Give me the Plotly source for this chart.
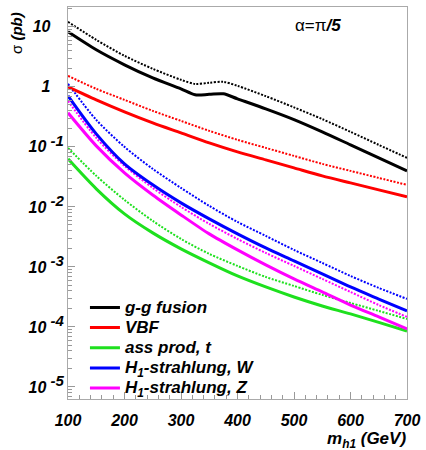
import plotly.graph_objects as go

# Higgs mass grid (GeV)
m_h1 = [100, 150, 200, 250, 300, 350, 400, 450, 500, 550, 600, 650, 700]
m_h1_gg = [100, 150, 200, 250, 300, 325, 350, 375, 400, 450, 500, 550, 600, 650, 700]

# cross sections (pb): solid and dotted variant of each channel
gg_solid = [8.25, 4.14, 2.33, 1.41, 0.926, 0.736, 0.750, 0.765, 0.631, 0.430, 0.285, 0.178, 0.108, 0.0656, 0.0398]
gg_dot = [12.1, 6.07, 3.29, 2.0, 1.31, 1.12, 1.17, 1.21, 1.04, 0.700, 0.455, 0.290, 0.178, 0.108, 0.0656]

vbf_solid = [1.0, 0.607, 0.383, 0.251, 0.171, 0.1166, 0.0825, 0.0607, 0.0447, 0.0329, 0.0251, 0.0192, 0.0147]
vbf_dot = [1.525, 0.926, 0.607, 0.398, 0.271, 0.185, 0.131, 0.0962, 0.0708, 0.0521, 0.0398, 0.0304, 0.0233]

tt_solid = [0.0631, 0.0200, 0.00765, 0.00369, 0.00200, 0.00117, 0.000708, 0.000464, 0.000316, 0.000224, 0.000165, 0.000119, 0.0000858]
tt_dot = [0.0962, 0.0329, 0.01308, 0.00585, 0.00293, 0.00165, 0.00104, 0.000681, 0.000482, 0.000342, 0.000251, 0.000185, 0.000136]

hw_solid = [0.708, 0.1647, 0.0521, 0.0233, 0.01166, 0.00631, 0.00355, 0.00207, 0.00126, 0.000766, 0.000464, 0.000292, 0.000185]
hw_dot = [1.122, 0.282, 0.1, 0.0430, 0.0207, 0.0104, 0.00562, 0.00329, 0.00192, 0.001166, 0.000708, 0.000447, 0.000293]

hz_solid = [0.369, 0.104, 0.0369, 0.0158, 0.00736, 0.00355, 0.00192, 0.00108, 0.000631, 0.000383, 0.000232, 0.000147, 0.0000926]
hz_dot = [0.584, 0.141, 0.0482, 0.0207, 0.01, 0.00521, 0.00292, 0.00171, 0.00104, 0.000631, 0.000383, 0.000232, 0.000147]

labels = ["g-g fusion", "VBF", "ass prod, t", "H<sub>1</sub>-strahlung, W", "H<sub>1</sub>-strahlung, Z"]
colors = ["#000000", "#ff0000", "#1ee01e", "#0000ff", "#ff00ff"]

x_ticks = [100, 200, 300, 400, 500, 600, 700]
y_ticks = [1e-5, 1e-4, 1e-3, 1e-2, 1e-1, 1, 10]
EXP = '<sup><span style="font-size:15px">&nbsp;%s</span></sup>'
y_ticktext = ["10" + EXP % "-5", "10" + EXP % "-4", "10" + EXP % "-3", "10" + EXP % "-2",
              "10" + EXP % "-1", "1&nbsp;&nbsp;&nbsp;", "10&nbsp;&nbsp;&nbsp;"]

FONT = "Liberation Sans"

series = [
    (m_h1_gg, gg_solid, gg_dot),
    (m_h1, vbf_solid, vbf_dot),
    (m_h1, tt_solid, tt_dot),
    (m_h1, hw_solid, hw_dot),
    (m_h1, hz_solid, hz_dot),
]

fig = go.Figure()
# dotted variants first so solid lines sit on top
for (xs, ys_solid, ys_dot), col in zip(series, colors):
    fig.add_trace(go.Scatter(
        x=xs, y=ys_dot, mode="lines", showlegend=False, hoverinfo="skip",
        line=dict(color=col, width=2, dash="2px,1.5px", shape="spline", smoothing=0.8),
    ))
for (xs, ys_solid, ys_dot), col, lab in zip(series, colors, labels):
    fig.add_trace(go.Scatter(
        x=xs, y=ys_solid, mode="lines",
        name='<span style="font-size:17px"><b><i>%s</i></b></span>' % lab,
        line=dict(color=col, width=3, shape="spline", smoothing=0.8),
    ))

# minor ticks on the log axis
minor_y = [k * 10.0 ** e for e in range(-6, 2) for k in range(2, 10)]

fig.update_layout(
    width=426, height=450,
    margin=dict(l=68, r=19, t=7, b=51),
    paper_bgcolor="white", plot_bgcolor="white",
    font=dict(family=FONT, size=16, color="black"),
    showlegend=True,
    legend=dict(
        x=0.05, y=0.272, xanchor="left", yanchor="top",
        bgcolor="rgba(0,0,0,0)", borderwidth=0,
        font=dict(family=FONT, size=13.2, color="black"),
        itemwidth=30,
    ),
    xaxis=dict(
        type="linear", range=[100, 700],
        tickvals=x_ticks, ticktext=["<b><i>%d</i></b>" % v for v in x_ticks],
        ticks="inside", ticklen=7, tickcolor="#999999", tickwidth=1,
        minor=dict(ticks="inside", ticklen=4, dtick=20, tickcolor="#999999"),
        showline=True, linecolor="#aaaaaa", linewidth=1, mirror=True,
        showgrid=False, zeroline=False,
        tickfont=dict(family=FONT, size=16, color="black"),
        ticklabelstandoff=7,
    ),
    yaxis=dict(
        type="log", range=[-5.2, 1.33],
        tickvals=y_ticks, ticktext=["<b><i>%s</i></b>" % t for t in y_ticktext],
        ticks="inside", ticklen=7, tickcolor="#999999", tickwidth=1,
        minor=dict(ticks="inside", ticklen=4, tickvals=minor_y, tickcolor="#999999"),
        showline=True, linecolor="#aaaaaa", linewidth=1, mirror=True,
        showgrid=False, zeroline=False,
        tickfont=dict(family=FONT, size=16, color="black"),
    ),
)

fig.add_annotation(
    text="α=π<b><i>/5</i></b>", xref="paper", yref="paper",
    x=0.737, y=0.954, xanchor="center", yanchor="middle", showarrow=False,
    font=dict(family=FONT, size=17, color="black"),
)
fig.add_annotation(
    text="σ <b><i>(pb)</i></b>", xref="paper", yref="paper",
    x=-0.150, y=0.934, xanchor="center", yanchor="middle", showarrow=False,
    textangle=-90, font=dict(family=FONT, size=15, color="black"),
)
fig.add_annotation(
    text="<b><i>m<sub>h1</sub> (GeV)</i></b>", xref="paper", yref="paper",
    x=1.003, y=-0.0714, xanchor="right", yanchor="top", showarrow=False,
    font=dict(family=FONT, size=17, color="black"),
)

fig.write_html("out.html")
